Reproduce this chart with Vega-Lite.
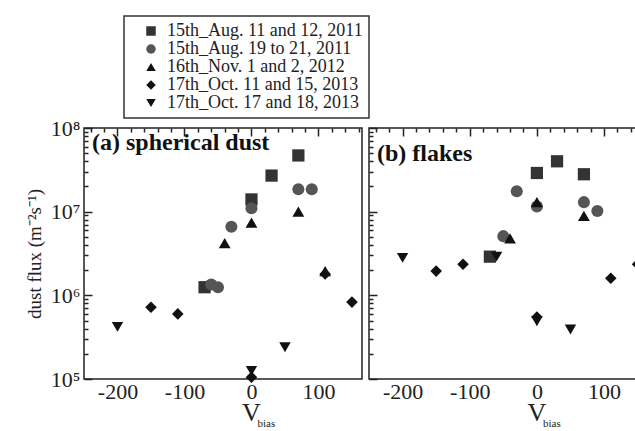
{
  "$schema": "https://vega.github.io/schema/vega-lite/v6.json",
  "padding": {"left": 24, "top": 15, "right": 0, "bottom": 0},
  "datasets": {
    "a": [
      {"v": 70, "flux": 4.7e7, "series": "15th_Aug. 11 and 12, 2011"},
      {"v": 30, "flux": 2.7e7, "series": "15th_Aug. 11 and 12, 2011"},
      {"v": 0, "flux": 1.4e7, "series": "15th_Aug. 11 and 12, 2011"},
      {"v": -70, "flux": 1.25e6, "series": "15th_Aug. 11 and 12, 2011"},
      {"v": 70, "flux": 1.85e7, "series": "15th_Aug. 19  to  21, 2011"},
      {"v": 90, "flux": 1.85e7, "series": "15th_Aug. 19  to  21, 2011"},
      {"v": 0, "flux": 1.1e7, "series": "15th_Aug. 19  to  21, 2011"},
      {"v": -30, "flux": 6.6e6, "series": "15th_Aug. 19  to  21, 2011"},
      {"v": -60, "flux": 1.35e6, "series": "15th_Aug. 19  to  21, 2011"},
      {"v": -50, "flux": 1.25e6, "series": "15th_Aug. 19  to  21, 2011"},
      {"v": 70, "flux": 1.0e7, "series": "16th_Nov.  1  and  2, 2012"},
      {"v": 0, "flux": 7.4e6, "series": "16th_Nov.  1  and  2, 2012"},
      {"v": -40, "flux": 4.2e6, "series": "16th_Nov.  1  and  2, 2012"},
      {"v": 110, "flux": 1.95e6, "series": "16th_Nov.  1  and  2, 2012"},
      {"v": -150, "flux": 7.2e5, "series": "17th_Oct. 11 and 15, 2013"},
      {"v": -110, "flux": 6.0e5, "series": "17th_Oct. 11 and 15, 2013"},
      {"v": 150, "flux": 8.3e5, "series": "17th_Oct. 11 and 15, 2013"},
      {"v": 110, "flux": 1.8e6, "series": "17th_Oct. 11 and 15, 2013"},
      {"v": 0, "flux": 1.05e5, "series": "17th_Oct. 11 and 15, 2013"},
      {"v": -200, "flux": 4.2e5, "series": "17th_Oct. 17 and 18, 2013"},
      {"v": 50, "flux": 2.4e5, "series": "17th_Oct. 17 and 18, 2013"},
      {"v": 0, "flux": 1.25e5, "series": "17th_Oct. 17 and 18, 2013"}
    ],
    "b": [
      {"v": 30, "flux": 4.0e7, "series": "15th_Aug. 11 and 12, 2011"},
      {"v": 0, "flux": 2.9e7, "series": "15th_Aug. 11 and 12, 2011"},
      {"v": 70, "flux": 2.8e7, "series": "15th_Aug. 11 and 12, 2011"},
      {"v": -70, "flux": 2.9e6, "series": "15th_Aug. 11 and 12, 2011"},
      {"v": -30, "flux": 1.75e7, "series": "15th_Aug. 19  to  21, 2011"},
      {"v": 0, "flux": 1.15e7, "series": "15th_Aug. 19  to  21, 2011"},
      {"v": 70, "flux": 1.3e7, "series": "15th_Aug. 19  to  21, 2011"},
      {"v": 90, "flux": 1.02e7, "series": "15th_Aug. 19  to  21, 2011"},
      {"v": -50, "flux": 5.1e6, "series": "15th_Aug. 19  to  21, 2011"},
      {"v": 0, "flux": 1.3e7, "series": "16th_Nov.  1  and  2, 2012"},
      {"v": 70, "flux": 8.9e6, "series": "16th_Nov.  1  and  2, 2012"},
      {"v": -40, "flux": 4.8e6, "series": "16th_Nov.  1  and  2, 2012"},
      {"v": -150, "flux": 1.95e6, "series": "17th_Oct. 11 and 15, 2013"},
      {"v": -110, "flux": 2.35e6, "series": "17th_Oct. 11 and 15, 2013"},
      {"v": 110, "flux": 1.6e6, "series": "17th_Oct. 11 and 15, 2013"},
      {"v": 150, "flux": 2.35e6, "series": "17th_Oct. 11 and 15, 2013"},
      {"v": 0, "flux": 5.5e5, "series": "17th_Oct. 11 and 15, 2013"},
      {"v": -200, "flux": 2.8e6, "series": "17th_Oct. 17 and 18, 2013"},
      {"v": -60, "flux": 2.9e6, "series": "17th_Oct. 17 and 18, 2013"},
      {"v": 50, "flux": 3.9e5, "series": "17th_Oct. 17 and 18, 2013"},
      {"v": 0, "flux": 4.9e5, "series": "17th_Oct. 17 and 18, 2013"}
    ],
    "sub": [{"v": "V", "b": "bias"}]
  },
  "hconcat": [
    {
      "width": 278,
      "height": 251,
      "title": {"text": "(a) spherical dust", "anchor": "start", "frame": "group", "dx": 8, "dy": 42, "font": "Liberation Serif", "fontSize": 24, "fontWeight": "bold", "color": "#111"},
      "data": {"name": "a"},
      "layer": [
        {
          "mark": {"type": "point", "filled": true, "opacity": 1},
          "encoding": {
            "x": {"field": "v", "type": "quantitative", "scale": {"domain": [-250, 165], "nice": false, "zero": false},
              "axis": {"orient": "bottom", "title": null, "values": [-240,-220,-200,-180,-160,-140,-120,-100,-80,-60,-40,-20,0,20,40,60,80,100,120,140,160],
                "labelExpr": "datum.value % 100 === 0 ? replace(datum.label, '−', '-') : ''",
                "gridDash": {"condition": {"test": "datum.value % 100 === 0", "value": [8, 2000]}, "value": [4, 2000]}}},
            "y": {"field": "flux", "type": "quantitative", "scale": {"type": "log", "domain": [1e5, 1e8], "nice": false},
              "axis": {"orient": "left", "title": "dust flux (m⁻²s⁻¹)",
                "values": [1e5,2e5,3e5,4e5,5e5,6e5,7e5,8e5,9e5,1e6,2e6,3e6,4e6,5e6,6e6,7e6,8e6,9e6,1e7,2e7,3e7,4e7,5e7,6e7,7e7,8e7,9e7,1e8],
                "labelExpr": "datum.value === 1e5 ? '10⁵' : datum.value === 1e6 ? '10⁶' : datum.value === 1e7 ? '10⁷' : datum.value === 1e8 ? '10⁸' : ''",
                "gridDash": {"condition": {"test": "indexof([100000,1000000,10000000,100000000], datum.value) >= 0", "value": [8, 2000]}, "value": [4, 2000]}}},
            "shape": {"field": "series", "type": "nominal", "title": null},
            "color": {"field": "series", "type": "nominal", "title": null},
            "size": {"field": "series", "type": "nominal", "legend": null,
              "scale": {"domain": ["15th_Aug. 11 and 12, 2011", "15th_Aug. 19  to  21, 2011", "16th_Nov.  1  and  2, 2012", "17th_Oct. 11 and 15, 2013", "17th_Oct. 17 and 18, 2013"], "range": [150, 130, 110, 100, 100]}}
          }
        },
        {
          "mark": {"type": "point", "opacity": 0},
          "encoding": {
            "x": {"field": "v", "type": "quantitative", "axis": {"orient": "top", "title": null, "labels": false,
              "values": [-240,-220,-200,-180,-160,-140,-120,-100,-80,-60,-40,-20,0,20,40,60,80,100,120,140,160],
              "gridDash": {"condition": {"test": "datum.value % 100 === 0", "value": [8, 2000]}, "value": [4, 2000]}}},
            "y": {"field": "flux", "type": "quantitative", "axis": {"orient": "right", "title": null, "labels": false,
              "values": [1e5,2e5,3e5,4e5,5e5,6e5,7e5,8e5,9e5,1e6,2e6,3e6,4e6,5e6,6e6,7e6,8e6,9e6,1e7,2e7,3e7,4e7,5e7,6e7,7e7,8e7,9e7,1e8],
              "gridDash": {"condition": {"test": "indexof([100000,1000000,10000000,100000000], datum.value) >= 0", "value": [8, 2000]}, "value": [4, 2000]}}}
          }
        },
        {
          "data": {"name": "sub"},
          "mark": {"type": "text", "font": "Liberation Serif", "fontSize": 26, "color": "#222", "align": "center", "baseline": "alphabetic"},
          "encoding": {
            "text": {"field": "v"},
            "x": {"datum": 0, "axis": null},
            "y": {"datum": 31500, "axis": null}
          }
        },
        {
          "data": {"name": "sub"},
          "mark": {"type": "text", "font": "Liberation Serif", "fontSize": 11, "color": "#222", "align": "left", "baseline": "alphabetic"},
          "encoding": {
            "text": {"field": "b"},
            "x": {"datum": 9, "axis": null},
            "y": {"datum": 26700, "axis": null}
          }
        }
      ],
      "resolve": {"axis": {"x": "independent", "y": "independent"}}
    },
    {
      "width": 272,
      "height": 251,
      "title": {"text": "(b) flakes", "anchor": "start", "frame": "group", "dx": 8, "dy": 42, "font": "Liberation Serif", "fontSize": 24, "fontWeight": "bold", "color": "#111"},
      "data": {"name": "b"},
      "layer": [
        {
          "mark": {"type": "point", "filled": true, "opacity": 1},
          "encoding": {
            "x": {"field": "v", "type": "quantitative", "scale": {"domain": [-250, 155], "nice": false, "zero": false},
              "axis": {"orient": "bottom", "title": null, "values": [-240,-220,-200,-180,-160,-140,-120,-100,-80,-60,-40,-20,0,20,40,60,80,100,120,140],
                "labelExpr": "datum.value % 100 === 0 ? replace(datum.label, '−', '-') : ''",
                "gridDash": {"condition": {"test": "datum.value % 100 === 0", "value": [8, 2000]}, "value": [4, 2000]}}},
            "y": {"field": "flux", "type": "quantitative", "scale": {"type": "log", "domain": [1e5, 1e8], "nice": false},
              "axis": {"orient": "left", "title": null, "labels": false,
                "values": [1e5,2e5,3e5,4e5,5e5,6e5,7e5,8e5,9e5,1e6,2e6,3e6,4e6,5e6,6e6,7e6,8e6,9e6,1e7,2e7,3e7,4e7,5e7,6e7,7e7,8e7,9e7,1e8],
                "gridDash": {"condition": {"test": "indexof([100000,1000000,10000000,100000000], datum.value) >= 0", "value": [8, 2000]}, "value": [4, 2000]}}},
            "shape": {"field": "series", "type": "nominal", "title": null},
            "color": {"field": "series", "type": "nominal", "title": null},
            "size": {"field": "series", "type": "nominal", "legend": null,
              "scale": {"domain": ["15th_Aug. 11 and 12, 2011", "15th_Aug. 19  to  21, 2011", "16th_Nov.  1  and  2, 2012", "17th_Oct. 11 and 15, 2013", "17th_Oct. 17 and 18, 2013"], "range": [150, 130, 110, 100, 100]}}
          }
        },
        {
          "mark": {"type": "point", "opacity": 0},
          "encoding": {
            "x": {"field": "v", "type": "quantitative", "axis": {"orient": "top", "title": null, "labels": false,
              "values": [-240,-220,-200,-180,-160,-140,-120,-100,-80,-60,-40,-20,0,20,40,60,80,100,120,140],
              "gridDash": {"condition": {"test": "datum.value % 100 === 0", "value": [8, 2000]}, "value": [4, 2000]}}},
            "y": {"field": "flux", "type": "quantitative", "axis": {"orient": "right", "title": null, "labels": false,
              "values": [1e5,2e5,3e5,4e5,5e5,6e5,7e5,8e5,9e5,1e6,2e6,3e6,4e6,5e6,6e6,7e6,8e6,9e6,1e7,2e7,3e7,4e7,5e7,6e7,7e7,8e7,9e7,1e8],
              "gridDash": {"condition": {"test": "indexof([100000,1000000,10000000,100000000], datum.value) >= 0", "value": [8, 2000]}, "value": [4, 2000]}}}
          }
        },
        {
          "data": {"name": "sub"},
          "mark": {"type": "text", "font": "Liberation Serif", "fontSize": 26, "color": "#222", "align": "center", "baseline": "alphabetic"},
          "encoding": {
            "text": {"field": "v"},
            "x": {"datum": 0, "axis": null},
            "y": {"datum": 31500, "axis": null}
          }
        },
        {
          "data": {"name": "sub"},
          "mark": {"type": "text", "font": "Liberation Serif", "fontSize": 11, "color": "#222", "align": "left", "baseline": "alphabetic"},
          "encoding": {
            "text": {"field": "b"},
            "x": {"datum": 9, "axis": null},
            "y": {"datum": 26700, "axis": null}
          }
        }
      ],
      "resolve": {"axis": {"x": "independent", "y": "independent"}}
    }
  ],
  "spacing": 5,
  "resolve": {"scale": {"shape": "shared", "color": "shared", "size": "shared"}, "legend": {"shape": "shared", "color": "shared"}},
  "config": {
    "font": "Liberation Serif",
    "view": {"stroke": "#222", "strokeWidth": 1.5},
    "axis": {
      "domain": false,
      "grid": true,
      "gridColor": "#222222",
      "gridWidth": 1.5,
      "gridOpacity": 1,
      "ticks": false,
      "labelFont": "Liberation Serif",
      "labelFontSize": 22,
      "labelColor": "#222",
      "labelPadding": 2,
      "titleFont": "Liberation Serif",
      "titleFontWeight": "normal",
      "titleColor": "#222"
    },
    "axisY": {"titleFontSize": 19, "titlePadding": 6, "labelPadding": 4},
    "range": {
      "category": ["#333333", "#555555", "#111111", "#111111", "#111111"],
      "symbol": ["square", "circle", "triangle-up", "diamond", "triangle-down"]
    },
    "legend": {
      "orient": "none",
      "legendX": 40,
      "legendY": -112,
      "strokeColor": "#333",
      "strokeWidth": 1.5,
      "padding": 6,
      "labelFont": "Liberation Serif",
      "labelFontSize": 18,
      "labelColor": "#222",
      "labelLimit": 400,
      "symbolSize": 90,
      "symbolType": "square",
      "rowPadding": 0,
      "labelOffset": 7,
      "symbolOffset": 12,
      "fillColor": "white"
    }
  }
}
